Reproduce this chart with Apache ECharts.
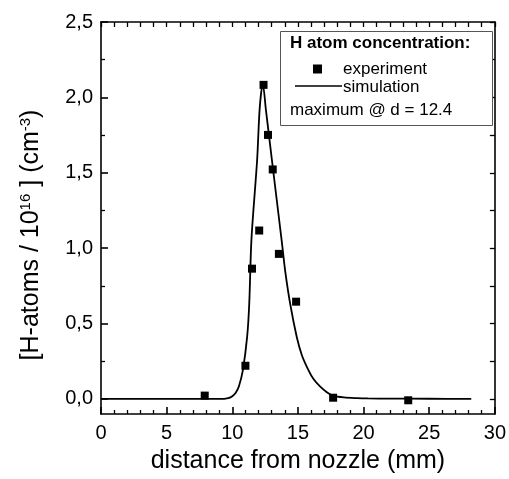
<!DOCTYPE html>
<html>
<head>
<meta charset="utf-8">
<script src="https://cdn.jsdelivr.net/npm/echarts@6/dist/echarts.min.js"></script>
<style>
html,body{margin:0;padding:0;background:#fff;}
#chart{width:509px;height:479px;}
</style>
</head>
<body>
<div id="chart"></div>
<script>
// ---- data ----
const xTickValues = [0, 5, 10, 15, 20, 25, 30];
const yTickValues = [0, 0.5, 1.0, 1.5, 2.0, 2.5];
const yMinorTickValues = [0.25, 0.75, 1.25, 1.75, 2.25];

const expX = [7.9, 11.0, 11.5, 12.05, 12.38, 12.72, 13.08, 13.55, 14.86, 17.68, 23.4];
const expY = [0.022, 0.22, 0.864, 1.117, 2.083, 1.751, 1.522, 0.962, 0.645, 0.008, -0.009];

const simX = [0, 2, 4, 6, 8, 9, 9.4, 9.7, 10.0, 10.25, 10.5, 10.81, 11.13, 11.29, 11.46, 11.89, 12.09, 12.32, 12.57, 13.02, 13.78, 14.03, 14.41, 14.91, 15.3, 15.79, 16.2, 16.68, 17.2, 17.68, 18.5, 19.5, 20.33, 22, 25, 28.2];
const simY = [0, 0, 0, 0, 0, 0, 0.001, 0.005, 0.018, 0.04, 0.083, 0.193, 0.411, 0.63, 1.06, 1.583, 1.93, 2.09, 1.91, 1.583, 1.036, 0.848, 0.63, 0.411, 0.29, 0.193, 0.13, 0.083, 0.045, 0.022, 0.01, 0.005, 0.003, 0.002, 0.001, 0];

const xTitle = 'distance from nozzle (mm)';
const yTitle = '[H-atoms / 10{sup|16} ] (cm{sup|-3})';
const legendTitle = 'H atom concentration:';
const legendExp = 'experiment';
const legendSim = 'simulation';
const legendNote = 'maximum @ d = 12.4';

// ---- chart ----
const FONT = '"Liberation Sans", Arial, sans-serif';
const chart = echarts.init(document.getElementById('chart'), null, {renderer: 'canvas'});
const fmt = v => v.toFixed(1).replace('.', ',');
const lineStyle = {color: '#000', width: 1.6};

const option = {
  backgroundColor: '#fff',
  animation: false,
  grid: {left: 101, right: 11, top: 22, bottom: 61, containLabel: false},
  xAxis: [
    {
      type: 'value', min: 0, max: 30, interval: 5, position: 'bottom',
      name: xTitle, nameLocation: 'middle', nameGap: 35,
      nameTextStyle: {fontFamily: FONT, fontSize: 25, color: '#000'},
      axisLine: {show: true, onZero: false, lineStyle: lineStyle},
      axisTick: {show: true, inside: true, length: 7, lineStyle: lineStyle},
      minorTick: {show: true, splitNumber: 5, length: 4, lineStyle: {color: '#000', width: 1.3}},
      axisLabel: {show: true, margin: 9, fontFamily: FONT, fontSize: 20, color: '#000',
        customValues: xTickValues, formatter: v => String(v)},
      splitLine: {show: false}
    },
    {
      type: 'value', min: 0, max: 30, interval: 1, position: 'top',
      axisLine: {show: true, onZero: false, lineStyle: lineStyle},
      axisTick: {show: true, inside: true, length: 5, lineStyle: {color: '#000', width: 1.3}},
      axisLabel: {show: false},
      splitLine: {show: false}
    }
  ],
  yAxis: [
    {
      type: 'value', min: -0.1, max: 2.5, position: 'left',
      axisLine: {show: true, onZero: false, lineStyle: lineStyle},
      axisTick: {show: true, inside: true, length: 7, customValues: yTickValues, lineStyle: lineStyle},
      axisLabel: {show: true, margin: 8, fontFamily: FONT, fontSize: 20, color: '#000',
        customValues: yTickValues, formatter: fmt},
      splitLine: {show: false}
    },
    {
      type: 'value', min: -0.1, max: 2.5, position: 'left',
      axisLine: {show: false},
      axisTick: {show: true, inside: true, length: 4, customValues: yMinorTickValues, lineStyle: {color: '#000', width: 1.3}},
      axisLabel: {show: false},
      splitLine: {show: false}
    },
    {
      type: 'value', min: -0.1, max: 2.5, position: 'right',
      axisLine: {show: true, onZero: false, lineStyle: lineStyle},
      axisTick: {show: true, inside: true, length: 5,
        customValues: yTickValues.concat(yMinorTickValues), lineStyle: {color: '#000', width: 1.3}},
      axisLabel: {show: false},
      splitLine: {show: false}
    }
  ],
  series: [
    {
      type: 'line', name: legendSim, xAxisIndex: 0, yAxisIndex: 0,
      data: simX.map((x, i) => [x, simY[i]]),
      showSymbol: false, smooth: 0.3,
      lineStyle: {color: '#000', width: 1.8}, z: 2
    },
    {
      type: 'scatter', name: legendExp, xAxisIndex: 0, yAxisIndex: 0,
      data: expX.map((x, i) => [x, expY[i]]),
      symbol: 'rect', symbolSize: 8,
      itemStyle: {color: '#000', opacity: 1}, z: 3
    }
  ],
  graphic: [
    {type: 'text', z: 11, x: 31, y: 235, rotation: Math.PI / 2,
      style: {text: yTitle, fontFamily: FONT, fontSize: 25, fill: '#000', align: 'center', verticalAlign: 'middle',
        rich: {sup: {fontFamily: FONT, fontSize: 15, fill: '#000', verticalAlign: 'top'}}}},
    {type: 'rect', z: 10, shape: {x: 280.5, y: 31.5, width: 212, height: 94},
      style: {fill: '#fff', stroke: '#555', lineWidth: 1}},
    {type: 'text', z: 11, x: 290, y: 43,
      style: {text: legendTitle, fontFamily: FONT, fontSize: 17, fontWeight: 'bold', fill: '#000', verticalAlign: 'middle'}},
    {type: 'rect', z: 11, shape: {x: 313, y: 64.5, width: 9, height: 9}, style: {fill: '#000'}},
    {type: 'text', z: 11, x: 343, y: 69,
      style: {text: legendExp, fontFamily: FONT, fontSize: 17, fill: '#000', verticalAlign: 'middle'}},
    {type: 'line', z: 11, shape: {x1: 295, y1: 86, x2: 342, y2: 86}, style: {stroke: '#000', lineWidth: 1.6}},
    {type: 'text', z: 11, x: 343, y: 87,
      style: {text: legendSim, fontFamily: FONT, fontSize: 17, fill: '#000', verticalAlign: 'middle'}},
    {type: 'text', z: 11, x: 290, y: 110,
      style: {text: legendNote, fontFamily: FONT, fontSize: 17, fill: '#000', verticalAlign: 'middle'}}
  ]
};
chart.setOption(option);
</script>
</body>
</html>
